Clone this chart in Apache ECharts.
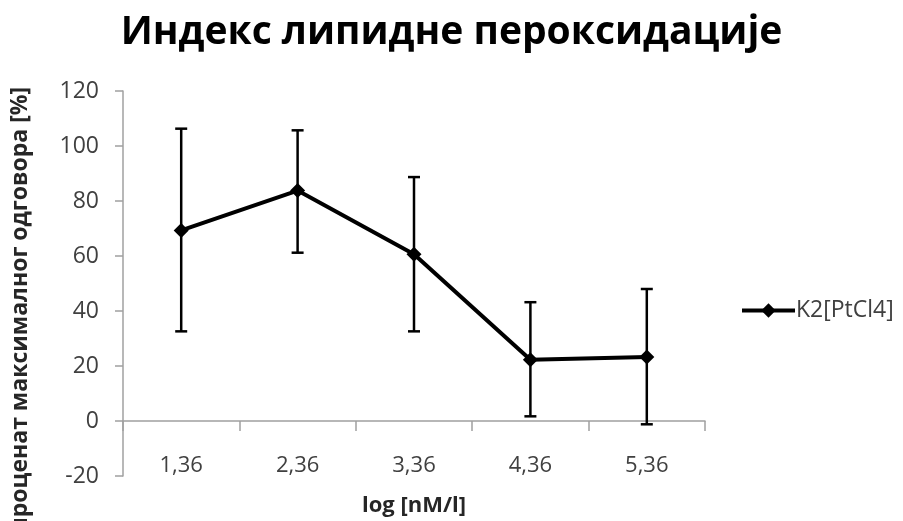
<!DOCTYPE html>
<html>
<head>
<meta charset="utf-8">
<script src="https://cdn.jsdelivr.net/npm/echarts@6/dist/echarts.min.js"></script>
<style>
  html, body { margin: 0; padding: 0; background: #fff; }
  #chart { width: 903px; height: 521px; }
</style>
</head>
<body>
<div id="chart"></div>
<script>
// log concentration categories
const categories = ['1,36', '2,36', '3,36', '4,36', '5,36'];
// mean response, % of maximum
const meanValues = [69.3, 83.8, 60.6, 22.3, 23.3];
// error bar limits
const lowerValues = [32.6, 61.2, 32.6, 1.7, -1.2];
const upperValues = [106.3, 105.7, 88.7, 43.2, 48.0];
const seriesName = 'K2[PtCl4]';

const FONT = '"Open Sans", "DejaVu Sans", sans-serif';
const AXIS_GRAY = '#a0a0a0';
const TEXT = '#404040';

const chart = echarts.init(document.getElementById('chart'), null, { renderer: 'canvas' });

const errorData = categories.map((c, i) => [i, lowerValues[i], upperValues[i]]);

chart.setOption({
  animation: false,
  backgroundColor: '#fff',
  title: {
    text: 'Индекс липидне пероксидације',
    left: 'center',
    top: 8,
    textStyle: { fontFamily: FONT, fontSize: 39, fontWeight: 'bold', color: '#000' }
  },
  grid: { left: 123, right: 198, top: 91, bottom: 45, containLabel: false, outerBoundsMode: 'none' },
  legend: {
    data: [seriesName],
    orient: 'vertical',
    left: 735,
    top: 294,
    itemWidth: 53,
    itemHeight: 18,
    itemGap: 0,
    lineStyle: { width: 4, color: '#000' },
    textStyle: { fontFamily: FONT, fontSize: 23, color: TEXT, padding: [0, 0, 0, -4] }
  },
  xAxis: {
    type: 'category',
    data: categories,
    boundaryGap: true,
    name: 'log [nM/l]',
    nameLocation: 'middle',
    nameGap: 19,
    nameTextStyle: { fontFamily: FONT, fontSize: 22, fontWeight: 'bold', color: '#262626' },
    axisLine: { onZero: true, lineStyle: { color: AXIS_GRAY, width: 1.5 } },
    axisTick: { show: true, length: 10, lineStyle: { color: AXIS_GRAY, width: 1.5 } },
    axisLabel: { margin: -21, fontFamily: FONT, fontSize: 22, color: TEXT },
    splitLine: { show: false }
  },
  yAxis: {
    type: 'value',
    min: -20,
    max: 120,
    interval: 20,
    name: 'проценат максималног одговора [%]',
    nameLocation: 'middle',
    nameGap: 91,
    nameRotate: 90,
    nameTextStyle: { fontFamily: FONT, fontSize: 23, fontWeight: 'bold', color: '#262626', padding: [0, 52, 0, 0] },
    axisLine: { show: true, onZero: false, lineStyle: { color: AXIS_GRAY, width: 1.5 } },
    axisTick: { show: true, length: 8, lineStyle: { color: AXIS_GRAY, width: 1.5 } },
    axisLabel: { margin: 24, fontFamily: FONT, fontSize: 23, color: TEXT },
    splitLine: { show: false }
  },
  series: [
    {
      type: 'custom',
      name: 'error',
      data: errorData,
      encode: { x: 0, y: [1, 2] },
      z: 1,
      silent: true,
      renderItem(params, api) {
        const idx = api.value(0);
        const lo = api.coord([idx, api.value(1)]);
        const hi = api.coord([idx, api.value(2)]);
        const half = 6;
        const style = { stroke: '#000', lineWidth: 2.5 };
        return {
          type: 'group',
          children: [
            { type: 'line', shape: { x1: lo[0], y1: lo[1], x2: hi[0], y2: hi[1] }, style },
            { type: 'line', shape: { x1: lo[0] - half, y1: lo[1], x2: lo[0] + half, y2: lo[1] }, style },
            { type: 'line', shape: { x1: hi[0] - half, y1: hi[1], x2: hi[0] + half, y2: hi[1] }, style }
          ]
        };
      }
    },
    {
      type: 'line',
      name: seriesName,
      data: meanValues,
      z: 3,
      symbol: 'diamond',
      symbolSize: 15,
      lineStyle: { color: '#000', width: 4 },
      itemStyle: { color: '#000' }
    }
  ]
});
</script>
</body>
</html>
